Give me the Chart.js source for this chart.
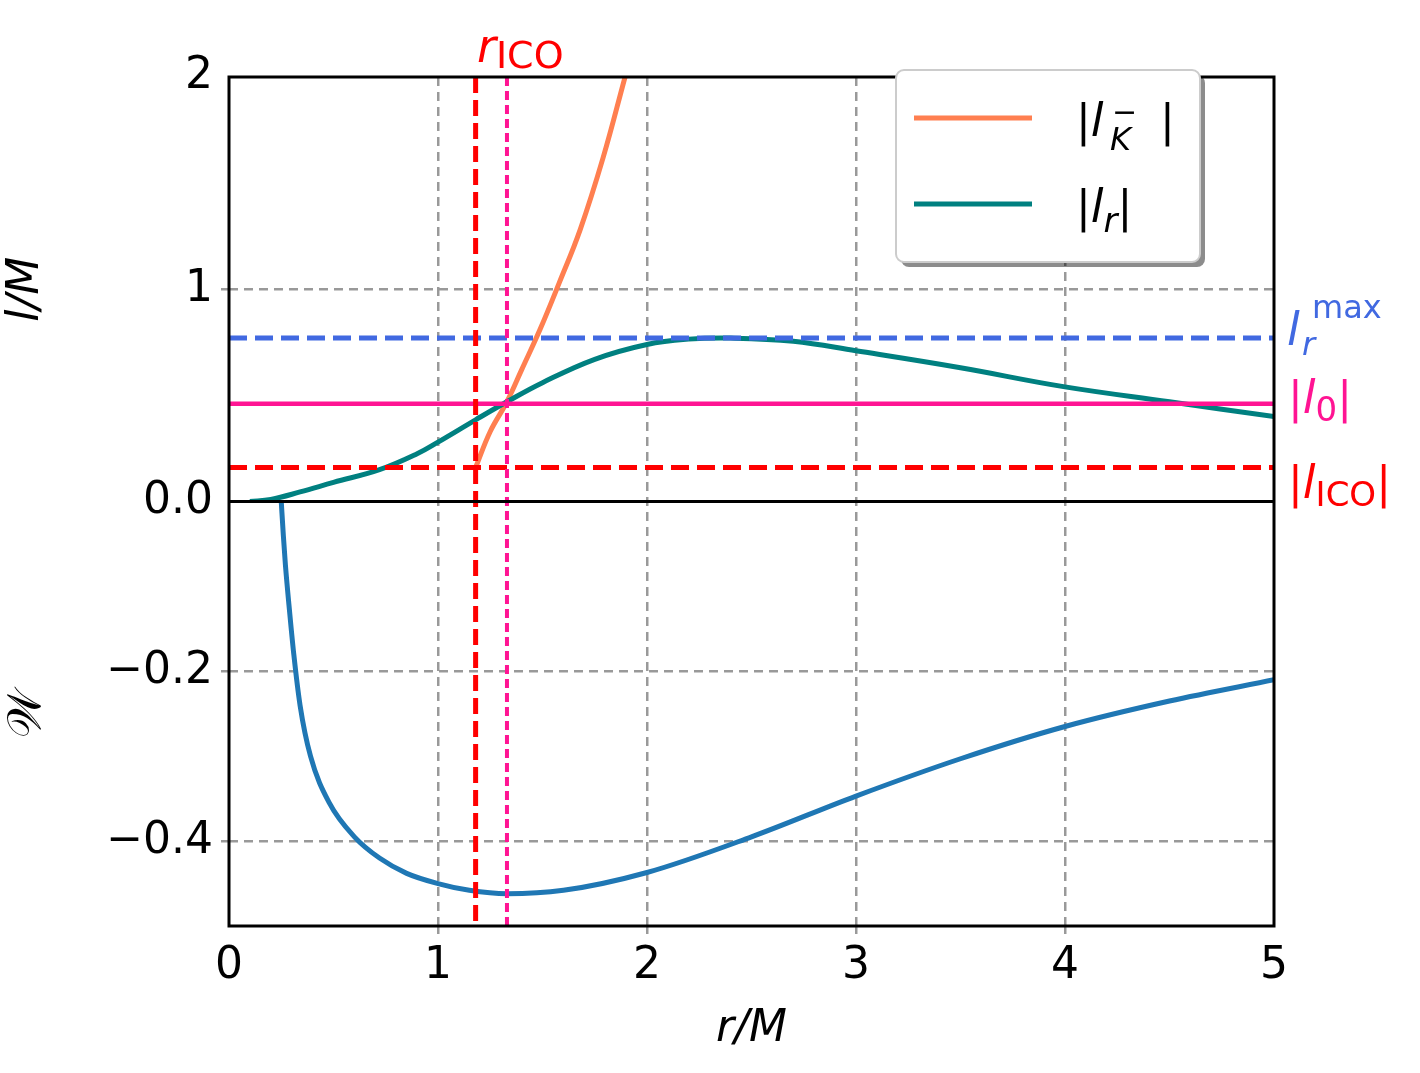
<!DOCTYPE html>
<html><head><meta charset="utf-8">
<script src="https://cdn.jsdelivr.net/npm/chart.js@4/dist/chart.umd.min.js"></script>
<style>html,body{margin:0;padding:0;background:#fff}#w{width:1420px;height:1073px}</style>
</head><body><div id="w"><canvas id="c"></canvas></div>
<script>
const rK = [1.18, 1.25, 1.33, 1.40, 1.488, 1.58, 1.68, 1.79, 1.895];
const lK = [0.16, 0.33, 0.47, 0.62, 0.81, 1.03, 1.28, 1.62, 2.0];
const rR = [0.1, 0.2, 0.34, 0.5, 0.72, 0.9, 1.0, 1.18, 1.33, 1.5, 1.75, 2.0, 2.2, 2.4, 2.7, 3.0, 3.5, 4.0, 4.5, 5.0];
const lR = [0, 0.01, 0.045, 0.09, 0.15, 0.225, 0.28, 0.385, 0.47, 0.56, 0.67, 0.74, 0.765, 0.77, 0.755, 0.71, 0.63, 0.54, 0.47, 0.40];
const rW = [0.25, 0.26, 0.27, 0.29, 0.31, 0.34, 0.39, 0.48, 0.6, 0.72, 0.85, 1.0, 1.15, 1.33, 1.6, 2.0, 2.5, 3.0, 3.5, 4.0, 4.5, 5.0];
const W  = [0, -0.04, -0.075, -0.13, -0.18, -0.24, -0.30, -0.355, -0.395, -0.42, -0.438, -0.45, -0.458, -0.462, -0.458, -0.437, -0.395, -0.347, -0.303, -0.265, -0.235, -0.21];
const lRmax = 0.77, l0 = 0.46, lICO = 0.16, rICO = 1.18, r0 = 1.33;
const xTicks = [0,1,2,3,4,5];

const pts = (xs, ys) => xs.map((x,i)=>({x, y: ys[i]}));
const hline = (v) => [{x:0,y:v},{x:5,y:v}];
const F = 'DejaVu Sans';

function txt(ctx, s, x, y, size, color, italic, align){
  ctx.font = (italic?'italic ':'') + size + 'px "' + F + '"';
  ctx.fillStyle = color; ctx.textAlign = align||'left'; ctx.textBaseline='alphabetic';
  ctx.fillText(s, x, y); return ctx.measureText(s).width;
}
function rich(ctx, segs, x, y, color){
  let cx = x;
  for (const [s, dy, sz, it] of segs){ cx += txt(ctx, s, cx, y+dy, sz, color, it); }
  return cx;
}

const plug = {
  id:'extra',
  afterDatasetsDraw(chart){
    const ctx = chart.ctx, a = chart.chartArea, xs = chart.scales.x, yt = chart.scales.yT;
    const y0 = yt.getPixelForValue(0);
    ctx.save();
    ctx.lineWidth = 5; ctx.setLineDash([16,7]);
    ctx.strokeStyle = 'red';
    let px = xs.getPixelForValue(rICO);
    ctx.beginPath(); ctx.moveTo(px,a.top); ctx.lineTo(px,a.bottom); ctx.stroke();
    ctx.strokeStyle = '#ff1493'; ctx.lineWidth=4; ctx.setLineDash([9,5]);
    px = xs.getPixelForValue(r0);
    ctx.beginPath(); ctx.moveTo(px,a.top); ctx.lineTo(px,a.bottom); ctx.stroke();
    ctx.setLineDash([]);
    ctx.strokeStyle='#000'; ctx.lineWidth=3;
    ctx.beginPath(); ctx.moveTo(a.left,y0); ctx.lineTo(a.right,y0); ctx.stroke();
    ctx.strokeRect(a.left,a.top,a.right-a.left,a.bottom-a.top);
    rich(ctx, [['r',0,46,true],['ICO',6,38,false]], 477, 62, 'red');
    rich(ctx, [['l',0,46,true]], 1287, 345, '#4169e1');
    txt(ctx,'max',1312,318,32,'#4169e1',false);
    txt(ctx,'r',1302,355,32,'#4169e1',true);
    rich(ctx, [['|',0,44,false],['l',0,46,true],['0',8,34,false],['|',0,44,false]], 1288, 413, '#ff1493');
    rich(ctx, [['|',0,44,false],['l',0,46,true],['ICO',8,34,false],['|',0,44,false]], 1288, 498, 'red');
    const lx=896, ly=70, lw=304, lh=192;
    ctx.fillStyle='rgba(0,0,0,0.45)';
    ctx.beginPath(); ctx.roundRect(lx+5,ly+5,lw,lh,8); ctx.fill();
    ctx.fillStyle='#fff'; ctx.strokeStyle='#ccc'; ctx.lineWidth=2;
    ctx.beginPath(); ctx.roundRect(lx,ly,lw,lh,8); ctx.fill(); ctx.stroke();
    ctx.lineWidth=5;
    ctx.strokeStyle='#ff7f50'; ctx.beginPath(); ctx.moveTo(914,118); ctx.lineTo(1032,118); ctx.stroke();
    ctx.strokeStyle='#008080'; ctx.beginPath(); ctx.moveTo(914,204); ctx.lineTo(1032,204); ctx.stroke();
    rich(ctx, [['|',0,44,false],['l',0,46,true]], 1076, 136, '#000');
    txt(ctx,'−',1112,122,30,'#000',false);
    txt(ctx,'K',1110,150,32,'#000',true);
    txt(ctx,'|',1160,136,44,'#000',false);
    rich(ctx, [['|',0,44,false],['l',0,46,true],['r',10,34,true],['|',0,44,false]], 1076, 222, '#000');
    ctx.restore();
  }
};

const gc = '#999';
new Chart(document.getElementById('c'), {
  type:'line',
  data:{datasets:[
    {data:hline(lRmax), yAxisID:'yT', borderColor:'#4169e1', borderWidth:5, borderDash:[18,8]},
    {data:hline(l0), yAxisID:'yT', borderColor:'#ff1493', borderWidth:4.5},
    {data:hline(lICO), yAxisID:'yT', borderColor:'red', borderWidth:5, borderDash:[18,8]},
    {data:pts(rR,lR), yAxisID:'yT', borderColor:'#008080', borderWidth:5, tension:0.4},
    {data:pts(rK,lK), yAxisID:'yT', borderColor:'#ff7f50', borderWidth:5, tension:0.4},
    {data:pts(rW,W), yAxisID:'yB', borderColor:'#1f77b4', borderWidth:5, cubicInterpolationMode:'monotone'}
  ]},
  options:{
    responsive:true, maintainAspectRatio:false, animation:false,
    layout:{padding:{top:77,right:146,left:0,bottom:17}},
    elements:{point:{radius:0}},
    plugins:{legend:{display:false}, tooltip:{enabled:false}},
    scales:{
      x:{type:'linear', min:0, max:5, afterBuildTicks:s=>{s.ticks=xTicks.map(v=>({value:v}));},
        afterFit:s=>{s.height=130;},
        ticks:{font:{family:F,size:44}, color:'#000', maxRotation:0, padding:6},
        border:{display:false, dash:[9,6]},
        grid:{color:c=>(c.tick&&c.tick.value>0&&c.tick.value<5)?gc:'transparent', lineWidth:2.5, tickLength:8},
        title:{display:true, text:'r/M', font:{family:F,size:44,style:'italic'}, color:'#000', padding:{top:0,bottom:0}}},
      yB:{type:'linear', min:-0.5, max:0, stack:'s', stackWeight:1, position:'left',
        afterBuildTicks:s=>{s.ticks=[-0.4,-0.2,0].map(v=>({value:v}));},
        afterFit:s=>{s.width=229;},
        ticks:{font:{family:F,size:44}, color:'#000', padding:8, callback:v=>v===0?'0.0':(v<0?'−':'')+Math.abs(v).toFixed(1)},
        border:{display:false, dash:[9,6]},
        grid:{color:c=>(c.tick&&c.tick.value<0)?gc:'transparent', lineWidth:2.5, tickLength:8},
        title:{display:true, text:'𝒲', font:{family:F,size:46}, color:'#000', padding:{top:0,bottom:0}}},
      yT:{type:'linear', min:0, max:2, stack:'s', stackWeight:1, position:'left',
        afterBuildTicks:s=>{s.ticks=[1,2].map(v=>({value:v}));},
        afterFit:s=>{s.width=229;},
        ticks:{font:{family:F,size:44}, color:'#000', padding:8, callback:v=>String(v)},
        border:{display:false, dash:[9,6]},
        grid:{color:c=>(c.tick&&c.tick.value===1)?gc:'transparent', lineWidth:2.5, tickLength:8},
        title:{display:true, text:'l/M', font:{family:F,size:44,style:'italic'}, color:'#000', padding:{top:0,bottom:0}}}
    }
  },
  plugins:[plug]
});
</script></body></html>
